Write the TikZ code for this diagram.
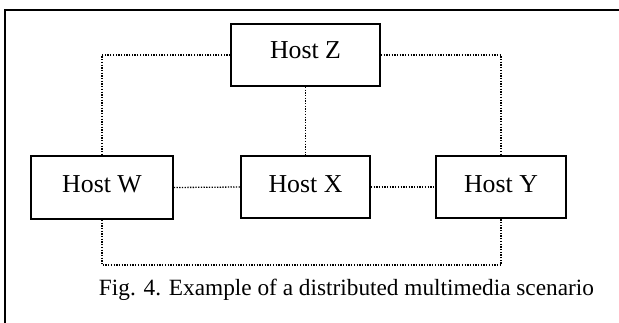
\documentclass[tikz,border=0pt]{standalone}
\usepackage{fontspec}
\setmainfont{Liberation Serif}
\usetikzlibrary{calc}

\begin{document}
\begin{tikzpicture}[x=1pt, y=-1pt, semithick,
    host/.style={draw, line width=1.6pt, inner sep=0pt, text depth=6pt,
                 font=\fontsize{25.8}{30}\selectfont},
    link/.style={line width=1.3pt, dash pattern=on 1.3pt off 1.4pt}]

    \useasboundingbox (0,0) rectangle (619,322);
    \draw[line width=2pt] (5,323) -- (5,9.5) -- (620,9.5);

    \node[host, minimum width=149pt, minimum height=62pt, text depth=9pt] (hz) at (305.5,55)  {Host Z};
    \node[host, minimum width=142pt, minimum height=63pt]                 (hw) at (102,187.5)  {Host W};
    \node[host, minimum width=129pt, minimum height=62pt]                 (hx) at (305.5,187)  {Host X};
    \node[host, minimum width=130pt, minimum height=62pt]                 (hy) at (501,187)    {Host Y};

    \coordinate (ring) at (300,265);

    \draw[link] (hz.west)  -| (hw.north);
    \draw[link] (hz.east)  -| (hy.north);
    \draw[link] (hz.south) -- (hx.north);
    \draw[link] (hw.east)  -- (hx.west);
    \draw[link] (hx.east)  -- (hy.west);
    \draw[link] (hw.south) |- (ring) -| (hy.south);

    \node[anchor=base, inner sep=0pt, font=\fontsize{23.3}{28}\selectfont] (caption) at (346.5,295)
        {Fig. 4. Example of a distributed multimedia scenario};
\end{tikzpicture}
\end{document}
